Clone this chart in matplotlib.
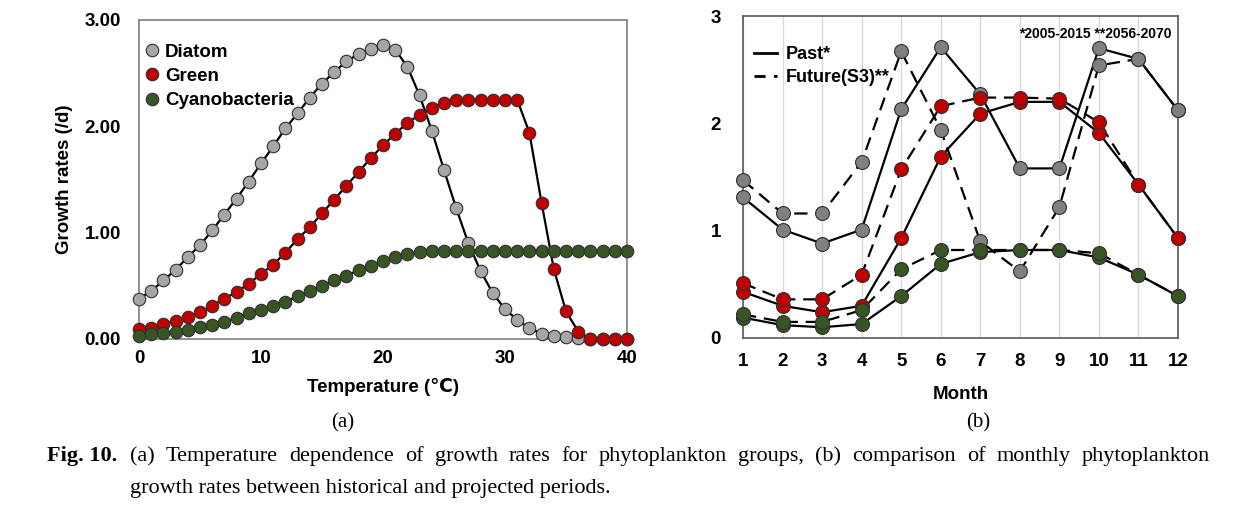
import matplotlib.pyplot as plt
import numpy as np

plt.rcParams['font.family'] = ['Liberation Sans', 'DejaVu Sans']
plt.rcParams['font.weight'] = 'bold'

# (a) temperature dependence, T = 0..40 degC
temperature = np.arange(0, 41)
diatom = [0.38, 0.45, 0.55, 0.65, 0.77, 0.88, 1.02, 1.17, 1.32, 1.48, 1.65,
          1.81, 1.98, 2.12, 2.27, 2.40, 2.51, 2.61, 2.68, 2.73, 2.76, 2.72,
          2.56, 2.29, 1.96, 1.59, 1.23, 0.90, 0.64, 0.43, 0.28, 0.18, 0.10,
          0.05, 0.03, 0.02, 0.01, 0.0, 0.0, 0.0, 0.0]
green = [0.09, 0.10, 0.14, 0.17, 0.21, 0.25, 0.31, 0.38, 0.44, 0.52, 0.61,
         0.70, 0.81, 0.94, 1.05, 1.18, 1.31, 1.44, 1.57, 1.70, 1.82, 1.93,
         2.03, 2.11, 2.17, 2.22, 2.25, 2.25, 2.25, 2.25, 2.25, 2.25, 1.94,
         1.28, 0.66, 0.26, 0.07, 0.0, 0.0, 0.0, 0.0]
cyano = [0.03, 0.05, 0.06, 0.07, 0.08, 0.11, 0.13, 0.16, 0.20, 0.24, 0.27,
         0.31, 0.35, 0.40, 0.45, 0.50, 0.55, 0.59, 0.65, 0.69, 0.73, 0.77,
         0.80, 0.82, 0.83, 0.83, 0.83, 0.83, 0.83, 0.83, 0.83, 0.83, 0.83,
         0.83, 0.83, 0.83, 0.83, 0.83, 0.83, 0.83, 0.83]

# (b) monthly growth rates
months = np.arange(1, 13)
diatom_past = [1.31, 1.01, 0.88, 1.01, 2.13, 2.71, 2.27, 1.58, 1.58, 2.70, 2.60, 2.12]
diatom_future = [1.47, 1.16, 1.16, 1.64, 2.67, 1.94, 0.90, 0.62, 1.22, 2.54, 2.60, 2.12]
green_past = [0.43, 0.30, 0.24, 0.30, 0.93, 1.69, 2.09, 2.20, 2.20, 1.91, 1.43, 0.93]
green_future = [0.51, 0.36, 0.36, 0.59, 1.57, 2.16, 2.24, 2.24, 2.23, 2.01, 1.43, 0.93]
cyano_past = [0.19, 0.12, 0.10, 0.13, 0.39, 0.69, 0.80, 0.82, 0.82, 0.75, 0.59, 0.39]
cyano_future = [0.22, 0.15, 0.15, 0.26, 0.64, 0.82, 0.82, 0.82, 0.82, 0.79, 0.59, 0.39]

caption_1 = ('(a) Temperature dependence of growth rates for phytoplankton groups, '
             '(b) comparison of monthly phytoplankton')
caption_2 = 'growth rates between historical and projected periods.'

c_diatom_a = '#a6a6a6'
c_diatom_b = '#808080'
c_green = '#c00000'
c_cyano = '#375623'

fig = plt.figure(figsize=(12.45, 5.18), dpi=100)

# ---- panel (a)
ax1 = fig.add_axes([0.1116, 0.3456, 0.392, 0.616])
for vals, col, lab in [(diatom, c_diatom_a, 'Diatom'),
                       (green, c_green, 'Green'),
                       (cyano, c_cyano, 'Cyanobacteria')]:
    ax1.plot(temperature, vals, color='black', lw=1.6, zorder=2)
    ax1.plot(temperature, vals, ls='none', marker='o', ms=9, mfc=col,
             mec='#303030', mew=0.8, label=lab, zorder=3, clip_on=False)
ax1.set_xlim(0, 40)
ax1.set_ylim(0, 3)
ax1.set_xticks([0, 10, 20, 30, 40])
ax1.set_yticks([0, 1, 2, 3])
ax1.set_yticklabels(['0.00', '1.00', '2.00', '3.00'])
ax1.tick_params(length=0, labelsize=13.5)
ax1.tick_params(axis='x', pad=8)
ax1.tick_params(axis='y', pad=13)
for s in ax1.spines.values():
    s.set_color('#7f7f7f')
    s.set_linewidth(1.2)
ax1.set_xlabel('Temperature (℃)', fontsize=13.5, fontweight='bold', labelpad=8)
ax1.set_ylabel('Growth rates (/d)', fontsize=13.5, fontweight='bold', labelpad=8)
ax1.legend(loc='upper left', frameon=False, fontsize=13.5, handletextpad=0.2,
           borderaxespad=0.3, labelspacing=0.38, handlelength=1.0,
           borderpad=0.2, bbox_to_anchor=(-0.012, 0.955))

# ---- panel (b)
ax2 = fig.add_axes([0.5968, 0.3475, 0.3494, 0.6216])
ax2.set_xlim(1, 12)
ax2.set_ylim(0, 3)
ax2.set_xticks(months)
ax2.set_yticks([0, 1, 2, 3])
for m in months:
    ax2.axvline(m, color='#d9d9d9', lw=1.0, zorder=0)
dash = (6, 3.5)
for past, fut, col in [(diatom_past, diatom_future, c_diatom_b),
                       (green_past, green_future, c_green),
                       (cyano_past, cyano_future, c_cyano)]:
    ax2.plot(months, past, color='black', lw=1.6, zorder=2)
    ax2.plot(months, fut, color='black', lw=1.6, dashes=dash, zorder=2)
    ax2.plot(months, past, ls='none', marker='o', ms=10, mfc=col,
             mec='#303030', mew=0.8, zorder=3, clip_on=False)
    ax2.plot(months, fut, ls='none', marker='o', ms=10, mfc=col,
             mec='#303030', mew=0.8, zorder=3, clip_on=False)
ax2.tick_params(length=0, labelsize=13.5)
ax2.tick_params(axis='x', pad=11)
ax2.tick_params(axis='y', pad=16)
for s in ax2.spines.values():
    s.set_color('#595959')
    s.set_linewidth(1.2)
ax2.set_xlabel('Month', fontsize=13.5, fontweight='bold', labelpad=11)
h1, = ax2.plot([], [], color='black', lw=2, label='Past*')
h2, = ax2.plot([], [], color='black', lw=2, dashes=(4, 3), label='Future(S3)**')
ax2.legend(handles=[h1, h2], loc='upper left', frameon=False, fontsize=13,
           handlelength=1.3, handletextpad=0.45, labelspacing=0.33,
           bbox_to_anchor=(0.0, 0.94), borderaxespad=0.2)
ax2.text(0.985, 0.965, '*2005-2015 **2056-2070', transform=ax2.transAxes,
         ha='right', va='top', fontsize=10, fontweight='bold')

# ---- captions
serif = ['Liberation Serif', 'DejaVu Serif']
cap_size = 16
fig.text(343 / 1245, 1 - 423 / 518, '(a)', ha='center', va='center',
         family=serif, fontweight='normal', fontsize=15)
fig.text(978 / 1245, 1 - 423 / 518, '(b)', ha='center', va='center',
         family=serif, fontweight='normal', fontsize=15)
fig.text(47 / 1245, 1 - 461 / 518, 'Fig. 10.', ha='left', va='baseline',
         family=serif, fontweight='bold', fontsize=cap_size)

# first caption line is justified between x=130 and x=1210 px
renderer = fig.canvas.get_renderer()
words = caption_1.split()
word_texts = [fig.text(0, 1 - 461 / 518, w, ha='left', va='baseline',
                       family=serif, fontweight='normal', fontsize=cap_size)
              for w in words]
widths = [t.get_window_extent(renderer).width for t in word_texts]
gap = (1210 - 130 - sum(widths)) / (len(words) - 1)
x = 130
for t, w in zip(word_texts, widths):
    t.set_x(x / 1245)
    x += w + gap
fig.text(130 / 1245, 1 - 493 / 518, caption_2, ha='left', va='baseline',
         family=serif, fontweight='normal', fontsize=cap_size)

fig.savefig('out.png', dpi=100)
